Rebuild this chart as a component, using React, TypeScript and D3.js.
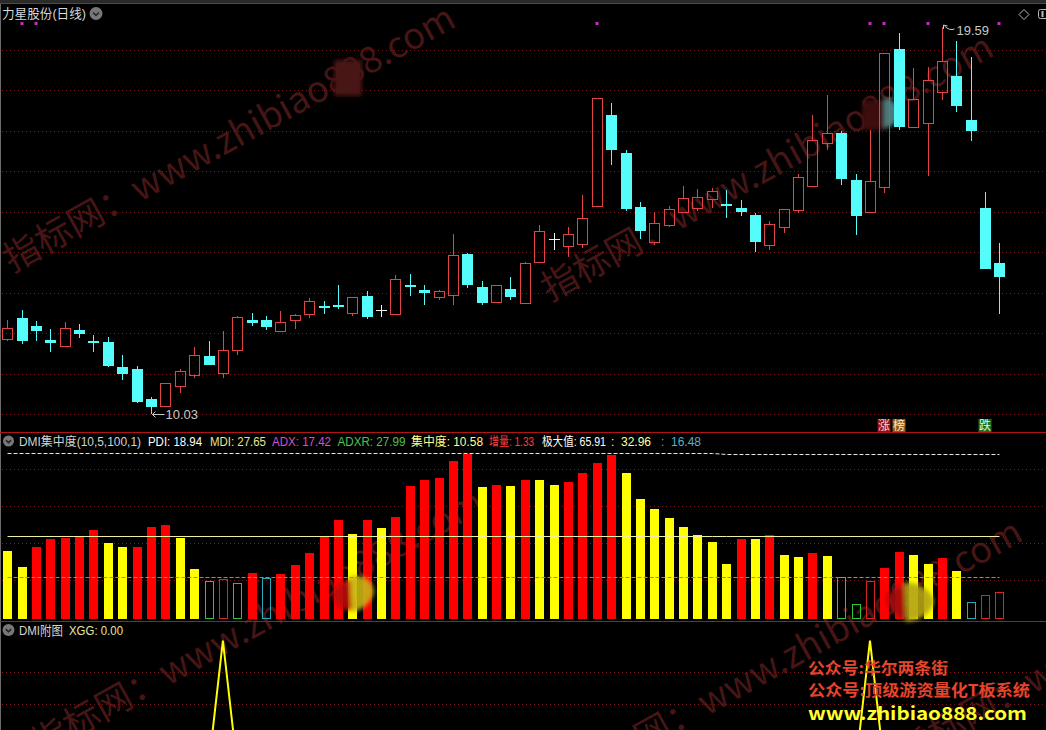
import React from 'react';
import * as d3 from 'd3';

// ---------- DATA ----------
const OPEN = [11.89, 12.40, 12.21, 11.86, 11.72, 12.11, 11.84, 11.81, 11.19, 11.14,
  10.40, 10.24, 10.73, 11.00, 11.46, 11.05, 11.62, 12.35, 12.35, 12.08,
  12.35, 12.51, 12.70, 12.73, 12.53, 12.95, 12.60, 12.51, 13.22, 13.10,
  12.93, 12.98, 13.99, 13.17, 12.81, 13.12, 12.78, 13.79, 14.35, 14.19,
  14.24, 15.18, 17.42, 16.48, 15.15, 14.29, 14.71, 15.03, 15.13, 15.35,
  15.22, 15.12, 14.95, 14.22, 14.66, 15.08, 15.67, 16.72, 16.98, 15.82,
  15.02, 15.65, 19.05, 17.13, 17.23, 17.98, 18.39, 17.30, 15.12, 13.76];
const HIGH = [12.35, 12.60, 12.33, 12.13, 12.30, 12.26, 11.98, 11.93, 11.49, 11.22,
  10.45, 10.80, 11.14, 11.69, 11.84, 12.08, 12.45, 12.53, 12.45, 12.58,
  12.50, 12.90, 12.82, 13.22, 12.92, 13.07, 12.73, 13.47, 13.49, 13.22,
  13.10, 14.48, 14.01, 13.32, 13.22, 13.42, 13.79, 14.70, 14.50, 14.65,
  15.44, 17.84, 17.72, 16.56, 15.27, 15.02, 15.17, 15.67, 15.59, 15.62,
  15.57, 15.32, 15.00, 14.80, 15.10, 15.96, 17.42, 17.92, 17.03, 15.96,
  17.05, 18.95, 19.45, 18.58, 18.61, 19.59, 19.25, 18.86, 15.52, 14.26];
const LOW = [11.84, 11.75, 11.84, 11.57, 11.72, 11.92, 11.57, 11.19, 10.87, 10.29,
  10.03, 10.24, 10.56, 10.93, 11.25, 10.93, 11.50, 12.21, 12.11, 12.06,
  12.14, 12.41, 12.51, 12.63, 12.46, 12.39, 12.44, 12.51, 12.95, 12.73,
  12.86, 12.73, 13.15, 12.73, 12.81, 12.86, 12.77, 13.77, 14.08, 13.92,
  14.14, 15.17, 16.19, 15.06, 14.36, 14.21, 14.65, 15.01, 15.06, 15.13,
  14.88, 14.93, 14.04, 14.08, 14.50, 15.01, 15.63, 16.56, 15.70, 14.46,
  15.02, 15.49, 17.05, 17.13, 15.92, 17.79, 17.50, 16.79, 13.62, 12.49];
const CLOSE = [12.15, 11.84, 12.09, 11.79, 12.15, 12.00, 11.80, 11.22, 11.03, 10.33,
  10.21, 10.80, 11.09, 11.49, 11.25, 11.61, 12.43, 12.29, 12.19, 12.30,
  12.48, 12.82, 12.66, 12.68, 12.92, 12.44, 12.60, 13.37, 13.18, 13.03,
  13.07, 13.96, 13.23, 12.78, 13.22, 12.93, 13.76, 14.55, 14.35, 14.47,
  14.87, 17.84, 16.56, 15.10, 14.55, 14.74, 15.10, 15.37, 15.40, 15.54,
  15.16, 15.03, 14.27, 14.73, 15.10, 15.89, 16.80, 16.97, 15.85, 14.93,
  15.78, 18.95, 17.13, 17.82, 18.28, 18.75, 17.65, 17.03, 13.62, 13.42];

// 集中度 bars
const CONC = [27.0, 20.6, 28.6, 31.8, 32.2, 32.6, 35.5, 30.2, 28.6, 28.6,
  36.7, 37.5, 32.2, 19.8, 15.0, 15.8, 14.2, 18.2, 16.2, 17.8,
  21.4, 26.2, 33.0, 39.5, 33.8, 39.5, 36.3, 40.7, 53.1, 55.5,
  56.3, 63.2, 66.0, 52.7, 53.5, 53.1, 55.5, 55.5, 53.5, 54.7,
  58.3, 62.3, 65.6, 58.3, 47.9, 43.9, 40.3, 36.7, 33.4, 30.6,
  21.8, 31.8, 31.8, 33.4, 25.4, 24.6, 26.2, 25.0, 16.6, 5.7,
  15.0, 20.2, 26.6, 25.4, 21.8, 24.2, 19.0, 6.5, 9.3, 10.6];
// R red, Y yellow, g green outline, r red outline, c cyan outline
const CONC_KIND = ['Y','Y','R','R','R','R','R','Y','Y','R',
  'R','R','Y','Y','g','r','g','R','c','R',
  'R','R','R','R','Y','R','Y','R','R','R',
  'R','R','R','Y','R','Y','R','Y','Y','R',
  'R','R','R','Y','Y','Y','Y','Y','Y','Y',
  'Y','R','Y','R','Y','Y','R','Y','g','g',
  'r','R','R','Y','Y','R','Y','c','r','r'];
// reference levels (极大值, half, quarter) as [barIndex, value]
const MAX_LEVEL = [[0, 66.3], [49, 66.3], [50, 65.91], [69, 65.91]];
const HALF_LEVEL = [[0, 33.15], [49, 33.15], [50, 32.96], [69, 32.96]];
const QUARTER_LEVEL = [[0, 16.58], [49, 16.58], [50, 16.48], [69, 16.48]];
const DMI_GRID = [15.2, 30.1, 45.0, 59.9];

const XGG = [0,0,0,0,0,0,0,0,0,0, 0,0,0,0,0,1,0,0,0,0, 0,0,0,0,0,0,0,0,0,0,
  0,0,0,0,0,0,0,0,0,0, 0,0,0,0,0,0,0,0,0,0, 0,0,0,0,0,0,0,0,0,0,
  1,0,0,0,0,0,0,0,0,0];
const XGG_GRID = [0.5, 0.75];

const PRICE_GRID = [10.03, 11.03, 12.03, 13.03, 14.03, 15.03, 16.03, 17.03, 18.03, 19.03];
const SIGNAL_DOTS = [1, 2, 41, 60, 61, 64, 69];
const CANDLE_TAGS = [
  { i: 61, t: '涨', bg: '#8c1414', fg: '#ffd0d0' },
  { i: 62, t: '榜', bg: '#8c5a1e', fg: '#ffe8c0' },
  { i: 68, t: '跌', bg: '#1e6e1e', fg: '#d8ffd8' },
];

const TITLE = '力星股份(日线)';
const DMI_HEADER = [
  { t: 'DMI集中度(10,5,100,1)', c: '#d2d2d2', x: 19, w: 122 },
  { t: 'PDI: 18.94', c: '#ffffff', x: 148, w: 54 },
  { t: 'MDI: 27.65', c: '#e6e68a', x: 210, w: 56 },
  { t: 'ADX: 17.42', c: '#d050d0', x: 272, w: 59 },
  { t: 'ADXR: 27.99', c: '#50c050', x: 337.5, w: 68 },
  { t: '集中度: 10.58', c: '#ffff8c', x: 411, w: 72 },
  { t: '增量: 1.33', c: '#ff3c3c', x: 489, w: 45 },
  { t: '极大值: 65.91', c: '#ffffff', x: 542, w: 64 },
  { t: ':  32.96', c: '#ffffa0', x: 611, w: 0 },
  { t: ':  16.48', c: '#5ab0c0', x: 661, w: 0 },
];
const SUB_HEADER = [
  { t: 'DMI附图', c: '#d2d2d2', x: 19, w: 44 },
  { t: 'XGG: 0.00', c: '#e6e6a0', x: 69, w: 54 },
];
const PROMO = [
  { t: '公众号:华尔两条街', c: '#e4452c', y: 674, w: 140, s: 16 },
  { t: '公众号:顶级游资量化T板系统', c: '#e4452c', y: 696, w: 222, s: 16 },
  { t: 'www.zhibiao888.com', c: '#ffff2e', y: 720, w: 219, s: 18 },
];
const WATERMARK = '指标网：www.zhibiao888.com';

// ---------- STYLE ----------
const FONT = "'Liberation Sans', Arial, 'Noto Sans CJK SC', sans-serif";
const RED = '#e04444';
const CYAN = '#54fcfc';
const GRID = '#7a1c1c';

export default function App() {
  React.useEffect(() => {
    document.body.style.margin = '0';
    document.body.style.background = '#000';
  }, []);

  const W = 1046, H = 730;
  const x = d3.scaleLinear().domain([0, 69]).range([7.2, 999.4]);
  const py = d3.scaleLinear().domain([10.03, 19.59]).range([414, 27.3]);
  const dy = d3.scaleLinear().domain([0, 65.91]).range([618.3, 454.3]);
  const gy = d3.scaleLinear().domain([0, 1]).range([767.5, 640.5]);
  const px = (i: number) => Math.round(x(i)) + 0.5;

  const levelLine = d3.line<number[]>().x(d => px(d[0])).y(d => Math.round(dy(d[1])) + 0.5);
  const xggLine = d3.line<number>().x((_, i) => x(i)).y(d => gy(d));

  const hiIdx = d3.maxIndex(HIGH);
  const loIdx = d3.minIndex(LOW);

  const watermarks = [
    { x: 12, y: 273 }, { x: 550, y: 302 }, { x: 40, y: 757 }, { x: 579, y: 787 }, { x: 905, y: 765 },
  ];

  const icon = (cx: number, cy: number, r: number, key: string) => (
    <g key={key}>
      <circle cx={cx} cy={cy} r={r} fill="#777" />
      <path d={`M${cx - r * 0.45},${cy - r * 0.15} L${cx},${cy + r * 0.3} L${cx + r * 0.45},${cy - r * 0.15}`}
        fill="none" stroke="#222" strokeWidth={1.5} />
    </g>
  );

  const loY = Math.round(py(LOW[loIdx])) + 0.5;
  const hiY = Math.round(py(HIGH[hiIdx]));

  return (
    <svg width={W} height={H} style={{ display: 'block', position: 'absolute', left: 0, top: 0, background: '#000' }}
      fontFamily={FONT}>
      <defs>
        <filter id="blur2" x="-50%" y="-50%" width="200%" height="200%">
          <feGaussianBlur stdDeviation="2" />
        </filter>
      </defs>
      <rect x={0} y={0} width={W} height={H} fill="#000" />

      {/* watermarks */}
      {watermarks.map((w, k) => (
        <text key={'wm' + k} x={w.x} y={w.y} fontSize={36} fill="#461515" textLength={510}
          lengthAdjust="spacingAndGlyphs" transform={`rotate(-29 ${w.x} ${w.y})`}
          fontFamily="'Noto Sans CJK SC', sans-serif">{WATERMARK}</text>
      ))}

      {/* frame */}
      <rect x={0} y={0} width={W} height={3} fill="#2a2a2a" />
      <line x1={0} x2={W} y1={3.5} y2={3.5} stroke="#4a4a4a" />
      <line x1={0.5} x2={0.5} y1={4} y2={H} stroke="#6a6a6a" />

      {/* main price grid */}
      {PRICE_GRID.map((p, k) => (
        <line key={'pg' + k} x1={2} x2={W} y1={Math.round(py(p)) + 0.5} y2={Math.round(py(p)) + 0.5}
          stroke={GRID} strokeDasharray="1 3" />
      ))}

      {/* mosaic blobs in main panel */}
      <g filter="url(#blur2)">
        <rect x={334} y={60} width={28} height={36} fill="#4a1212" />
        <rect x={862} y={100} width={24} height={30} fill="#3e1010" />
        <path d="M884,98 A15,15 0 0 1 884,128 Z" fill="#4e7a7a" />
      </g>

      {/* candles */}
      {OPEN.map((o, i) => {
        const c = CLOSE[i];
        const cx = px(i);
        const yH = Math.round(py(HIGH[i]));
        const yL = Math.round(py(LOW[i]));
        if (c > o) {
          const top = Math.round(py(c)) + 0.5;
          const bot = Math.round(py(o)) + 0.5;
          return (
            <g key={'c' + i} stroke={RED} fill="none">
              {yH < top && <line x1={cx} x2={cx} y1={yH} y2={top} />}
              {yL > bot && <line x1={cx} x2={cx} y1={bot} y2={yL} />}
              <rect x={cx - 5} y={top} width={10} height={Math.max(1, bot - top)} />
            </g>
          );
        } else if (c < o) {
          const top = Math.round(py(o));
          const bot = Math.round(py(c));
          return (
            <g key={'c' + i}>
              <line x1={cx} x2={cx} y1={yH} y2={yL} stroke={CYAN} />
              <rect x={cx - 5.5} y={top} width={11} height={Math.max(2, bot - top)} fill={CYAN} />
            </g>
          );
        }
        const yc = Math.round(py(c)) + 0.5;
        return (
          <g key={'c' + i} stroke="#f0f0f0">
            <line x1={cx} x2={cx} y1={yH} y2={yL} />
            <line x1={cx - 5.5} x2={cx + 5.5} y1={yc} y2={yc} />
          </g>
        );
      })}

      {/* high / low markers */}
      <g stroke="#c8c8c8" fill="none">
        <path d={`M${px(loIdx) + 1},${loY} L${px(loIdx) + 13},${loY}`} />
        <path d={`M${px(loIdx) + 4},${loY - 3} L${px(loIdx) + 1},${loY} L${px(loIdx) + 4},${loY + 3}`} />
        <path d={`M${px(hiIdx) + 1},${hiY - 2} L${px(hiIdx) + 1},${hiY + 2}`} />
        <path d={`M${px(hiIdx) + 1},${hiY - 2} L${px(hiIdx) + 5},${hiY - 1}`} />
        <path d={`M${px(hiIdx) + 2},${hiY - 1} Q${px(hiIdx) + 7},${hiY + 4} ${px(hiIdx) + 12},${hiY + 2}`} />
      </g>
      <text x={px(loIdx) + 14} y={loY + 4.5} fontSize={13} fill="#c8c8c8">{LOW[loIdx].toFixed(2)}</text>
      <text x={px(hiIdx) + 14} y={hiY + 8} fontSize={13} fill="#c8c8c8">{HIGH[hiIdx].toFixed(2)}</text>

      {/* signal dots */}
      {SIGNAL_DOTS.map(i => (
        <rect key={'sd' + i} x={Math.round(x(i)) - 1.5} y={22} width={3} height={3} fill="#c82ac8" />
      ))}

      {/* candle tags */}
      {CANDLE_TAGS.map(t => (
        <g key={'tag' + t.i}>
          <rect x={Math.round(x(t.i)) - 6.5} y={419} width={13} height={13} fill={t.bg} />
          <text x={Math.round(x(t.i))} y={430} fontSize={12} textAnchor="middle" fill={t.fg}
            fontFamily="'Noto Sans CJK SC', sans-serif">{t.t}</text>
        </g>
      ))}

      {/* title */}
      <text x={2} y={18} fontSize={13} fill="#d8d8d8" textLength={84} lengthAdjust="spacingAndGlyphs">{TITLE}</text>
      {icon(96, 13.5, 6.5, 'ic0')}
      {/* top-right icons */}
      <path d="M1024,9.5 L1029,14.5 L1024,19.5 L1019,14.5 Z" fill="none" stroke="#bbb" />
      <rect x={1038.5} y={9.5} width={12} height={9} rx={2} fill="none" stroke="#bbb" />
      <line x1={1042.5} x2={1042.5} y1={11} y2={17} stroke="#bbb" strokeWidth={2} />

      {/* separators */}
      <line x1={0} x2={W} y1={432.5} y2={432.5} stroke="#b01414" />
      <line x1={0} x2={W} y1={621.5} y2={621.5} stroke="#b01414" />

      {/* DMI panel */}
      {icon(8.5, 441, 5.5, 'ic1')}
      {DMI_HEADER.map((h, k) => (
        h.w > 0 ? (
          <text key={'dh' + k} x={h.x} y={445.5} fontSize={12} fill={h.c} textLength={h.w}
            lengthAdjust="spacingAndGlyphs">{h.t}</text>
        ) : (
          <text key={'dh' + k} x={h.x} y={445.5} fontSize={12} fill={h.c} xmlSpace="preserve"
            style={{ whiteSpace: 'pre' }}>{h.t}</text>
        )
      ))}
      {DMI_GRID.map((v, k) => (
        <line key={'dg' + k} x1={2} x2={W} y1={Math.round(dy(v)) + 0.5} y2={Math.round(dy(v)) + 0.5}
          stroke={GRID} strokeDasharray="1 3" />
      ))}
      {CONC.map((v, i) => {
        const kind = CONC_KIND[i];
        const left = Math.round(x(i)) - 4;
        const top = Math.round(dy(v));
        const bot = 619;
        if (kind === 'R' || kind === 'Y') {
          return <rect key={'b' + i} x={left} y={top} width={9} height={bot - top} fill={kind === 'R' ? '#ff0000' : '#ffff00'} />;
        }
        const col = kind === 'g' ? '#2ec82e' : kind === 'r' ? '#d82424' : '#30a8bc';
        return <rect key={'b' + i} x={left + 0.5} y={top + 0.5} width={8} height={bot - top - 1} fill="none" stroke={col} />;
      })}
      {/* mosaic blobs in DMI panel */}
      <g filter="url(#blur2)" opacity={0.9}>
        <path d="M332,595 Q340,578 352,580 L352,610 Q338,612 332,595 Z" fill="#b80c0c" />
        <path d="M350,576 Q372,574 374,592 Q370,608 352,612 Z" fill="#c8b414" />
        <path d="M886,598 Q894,584 906,586 L906,620 Q892,618 886,598 Z" fill="#a41010" />
        <path d="M904,582 Q930,584 934,602 Q928,620 906,622 Z" fill="#b4a414" />
      </g>
      <path d={levelLine(MAX_LEVEL) || ''} fill="none" stroke="#e6e6e6" strokeDasharray="4 2" />
      <path d={levelLine(HALF_LEVEL) || ''} fill="none" stroke="#f0f0a0" />
      <path d={levelLine(QUARTER_LEVEL) || ''} fill="none" stroke="#5aa0b4" strokeDasharray="4 2" />

      {/* XGG panel */}
      {XGG_GRID.map((v, k) => (
        <line key={'xg' + k} x1={2} x2={W} y1={Math.round(gy(v)) + 0.5} y2={Math.round(gy(v)) + 0.5}
          stroke={GRID} strokeDasharray="1 3" />
      ))}
      <path d={xggLine(XGG) || ''} fill="none" stroke="#ffff00" strokeWidth={2} />
      {icon(8.5, 630, 6, 'ic2')}
      {SUB_HEADER.map((h, k) => (
        <text key={'sh' + k} x={h.x} y={634.5} fontSize={13} fill={h.c} textLength={h.w}
          lengthAdjust="spacingAndGlyphs">{h.t}</text>
      ))}

      {/* promo text */}
      {PROMO.map((p, k) => (
        <text key={'pr' + k} x={808} y={p.y} fontSize={p.s} fontWeight="bold" fill={p.c} textLength={p.w}
          lengthAdjust="spacingAndGlyphs" fontFamily="'Noto Sans CJK SC', 'DejaVu Sans', sans-serif">{p.t}</text>
      ))}
    </svg>
  );
}
